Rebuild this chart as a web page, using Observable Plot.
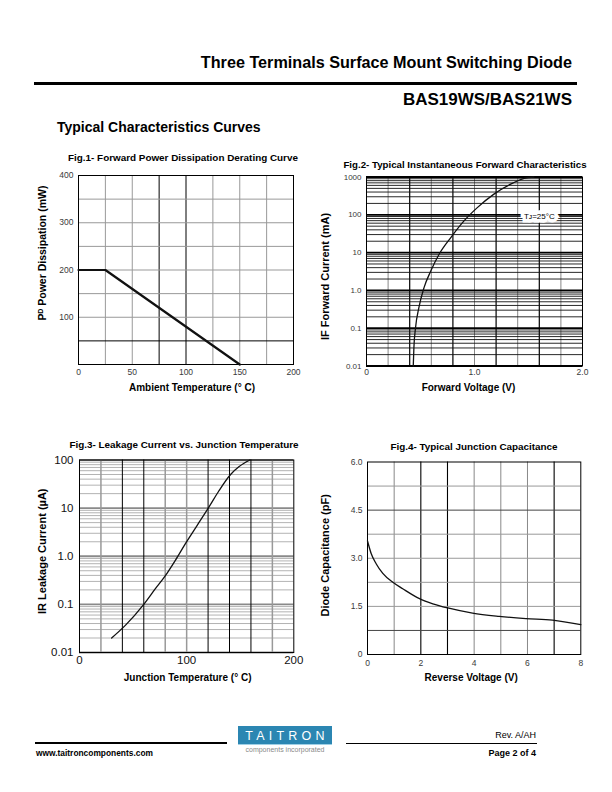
<!DOCTYPE html>
<html><head><meta charset="utf-8">
<script src="https://cdn.jsdelivr.net/npm/d3@7"></script>
<script src="https://cdn.jsdelivr.net/npm/@observablehq/plot@0.6"></script>
<style>
body{margin:0;background:#fff;}
#page{position:relative;width:612px;height:792px;overflow:hidden;font-family:"Liberation Sans",Arial,sans-serif;color:#000;}
.t{position:absolute;white-space:nowrap;line-height:1;}
.b{font-weight:bold;}
svg{overflow:visible;}
</style></head><body><div id="page"></div>
<script>
// ---------- data ----------
// Fig.1 derating curve
const fig1Temp = [0, 25, 150];
const fig1Power = [200, 200, 0];
const fig1XTicks = [0, 50, 100, 150, 200];
const fig1XLabels = ["0", "50", "100", "150", "200"];
const fig1YTicks = [100, 200, 300, 400];
const fig1YLabels = ["100", "200", "300", "400"];
const fig1GridXLight = [25, 50, 125, 150, 175];
const fig1GridXDark = [75, 100];
const fig1GridYLight = [100, 150, 200, 250, 300, 350];
const fig1GridYDark = [50];

// Fig.2 forward characteristics
const fig2Volt = [0.433, 0.439, 0.454, 0.485, 0.532, 0.594, 0.671, 0.779, 0.903, 1.026, 1.18, 1.335, 1.46, 1.55];
const fig2Curr = [0.01, 0.031, 0.103, 0.35, 1.17, 3.2, 8.9, 24.6, 69, 155, 353, 646, 920, 1000];
const fig2XTicks = [0, 1, 2];
const fig2XLabels = ["0", "1.0", "2.0"];
const fig2YTicks = [0.01, 0.1, 1, 10, 100, 1000];
const fig2YLabels = ["0.01", "0.1", "1.0", "10", "100", "1000"];
const fig2GridXLight = [0.2, 0.6, 1.0, 1.4, 1.8];
const fig2GridXDark = [0.4, 0.8, 1.2, 1.6];
const fig2Decades = [0.01, 0.1, 1, 10, 100];
const fig2Minor = [2, 3, 4, 5, 6, 7, 8, 9];
const fig2Note = "Tᴊ=25°C";

// Fig.3 leakage current
const fig3Temp = [30, 43, 60, 71, 80, 89.6, 99, 110, 121, 130, 141, 149, 159];
const fig3Leak = [0.020, 0.037, 0.1, 0.214, 0.39, 0.83, 1.85, 4.45, 10.7, 22.7, 50, 73, 100];
const fig3XTicks = [0, 100, 200];
const fig3XLabels = ["0", "100", "200"];
const fig3YTicks = [0.01, 0.1, 1, 10, 100];
const fig3YLabels = ["0.01", "0.1", "1.0", "10", "100"];
const fig3GridXLight = [20, 80, 100, 180];
const fig3GridXDark = [40, 60, 120, 140, 160];
const fig3Decades = [0.01, 0.1, 1, 10];
const fig3Minor = [2, 3, 4, 5, 6, 7, 8, 9];

// Fig.4 junction capacitance
const fig4Volt = [0, 0.137, 0.324, 0.574, 0.95, 1.32, 1.95, 2.45, 3.01, 3.94, 4.94, 5.94, 6.94, 8];
const fig4Cap = [3.54, 3.15, 2.83, 2.53, 2.25, 2.05, 1.74, 1.58, 1.45, 1.29, 1.19, 1.12, 1.07, 0.93];
const fig4XTicks = [0, 2, 4, 6, 8];
const fig4XLabels = ["0", "2", "4", "6", "8"];
const fig4YTicks = [0, 1.5, 3, 4.5, 6];
const fig4YLabels = ["0", "1.5", "3.0", "4.5", "6.0"];
const fig4GridXLight = [1, 4, 5, 6];
const fig4GridXDark = [2, 3, 7];
const fig4GridYLight = [1.5, 2.25, 3, 3.75, 5.25];
const fig4GridYDark = [0.75, 4.5];

// ---------- helpers ----------
const FONT = '"Liberation Sans", Arial, sans-serif';
const page = document.getElementById("page");
function txt(s, {left, right, cx, cy, size, bold = false, color = "#000", spacing}) {
  const d = document.createElement("div");
  d.className = "t" + (bold ? " b" : "");
  d.textContent = s;
  d.style.fontSize = size + "px";
  d.style.color = color;
  if (spacing) d.style.letterSpacing = spacing + "px";
  d.style.top = cy + "px";
  let tx = "0";
  if (left != null) d.style.left = left + "px";
  else if (right != null) d.style.right = (612 - right) + "px";
  else { d.style.left = cx + "px"; tx = "-50%"; }
  d.style.transform = `translate(${tx},-50%)`;
  page.append(d);
  return d;
}
function box(left, top, w, h, bg) {
  const d = document.createElement("div");
  Object.assign(d.style, {position: "absolute", left: left + "px", top: top + "px", width: w + "px", height: h + "px", background: bg});
  page.append(d);
  return d;
}
function place(svg, left, top) {
  const w = document.createElement("div");
  Object.assign(w.style, {position: "absolute", left: left + "px", top: top + "px"});
  w.append(svg);
  page.append(w);
}
const fmt = (ticks, labels) => { const m = new Map(ticks.map((t, i) => [t, labels[i]])); return d => m.get(d); };
const logGrid = (decades, minor) => decades.flatMap(d => minor.map(m => m * d));
const zipData = (xs, ys) => xs.map((x, i) => ({x, y: ys[i]}));
const tickStyle = {tickSize: 0, fontSize: 8.5, fill: "#3a3a3a", label: null};
const yLabel = (s, dx, dy, size) => Plot.text([s], {text: d => d, frameAnchor: "left", textAnchor: "middle", lineAnchor: "middle", dx, dy, rotate: -90, fontSize: size, fontWeight: "bold", fill: "#000"});
const xLabel = (s, dx, dy) => Plot.text([s], {text: d => d, frameAnchor: "bottom", textAnchor: "middle", lineAnchor: "middle", dx, dy, fontSize: 10, fontWeight: "bold", fill: "#000"});

// ---------- header ----------
txt("Three Terminals Surface Mount Switching Diode", {right: 572, cy: 62, size: 16.2, bold: true});
box(34, 82, 543, 3, "#000");
txt("BAS19WS/BAS21WS", {right: 572, cy: 99, size: 17, bold: true});
txt("Typical Characteristics Curves", {left: 57, cy: 127, size: 14, bold: true});

// ---------- Fig.1 ----------
txt("Fig.1- Forward Power Dissipation Derating Curve", {cx: 183, cy: 158, size: 9.9, bold: true});
place(Plot.plot({
  width: 270, height: 232, marginLeft: 48, marginRight: 7, marginTop: 7, marginBottom: 36,
  style: {fontFamily: FONT, background: "transparent"},
  x: {domain: [0, 200]}, y: {domain: [0, 400]},
  marks: [
    Plot.ruleX(fig1GridXLight, {stroke: "#999", strokeWidth: 1}),
    Plot.ruleX(fig1GridXDark, {stroke: "#000", strokeWidth: 1}),
    Plot.ruleY(fig1GridYLight, {stroke: "#999", strokeWidth: 1}),
    Plot.ruleY(fig1GridYDark, {stroke: "#000", strokeWidth: 1}),
    Plot.frame({stroke: "#000", strokeWidth: 1}),
    Plot.line(zipData(fig1Temp, fig1Power), {x: "x", y: "y", stroke: "#111", strokeWidth: 2.2}),
    Plot.axisX(fig1XTicks, {...tickStyle, tickPadding: 4, tickFormat: fmt(fig1XTicks, fig1XLabels)}),
    Plot.axisY(fig1YTicks, {...tickStyle, tickPadding: 5, tickFormat: fmt(fig1YTicks, fig1YLabels)}),
    yLabel("Pᴰ Power Dissipation (mW)", -36, -17, 10.5),
    xLabel("Ambient Temperature (° C)", 6, 23)
  ]
}), 30, 168);

// ---------- Fig.2 ----------
txt("Fig.2- Typical Instantaneous Forward Characteristics", {cx: 465, cy: 165, size: 9.7, bold: true});
place(Plot.plot({
  width: 290, height: 232, marginLeft: 56, marginRight: 18, marginTop: 8.5, marginBottom: 34.5,
  style: {fontFamily: FONT, background: "transparent"},
  x: {domain: [0, 2]}, y: {type: "log", domain: [0.01, 1000]},
  marks: [
    Plot.ruleX(fig2GridXLight, {stroke: "#888", strokeWidth: 1}),
    Plot.ruleX(fig2GridXDark, {stroke: "#000", strokeWidth: 1.2}),
    Plot.ruleY(logGrid(fig2Decades, fig2Minor), {stroke: "#111", strokeWidth: 0.9}),
    Plot.ruleY(fig2YTicks, {stroke: "#000", strokeWidth: 1.8}),
    Plot.frame({stroke: "#000", strokeWidth: 1}),
    Plot.line(zipData(fig2Volt, fig2Curr), {x: "x", y: "y", curve: "monotone-x", stroke: "#111", strokeWidth: 1.3}),
    Plot.text([{x: 1.6, y: 88, t: fig2Note}], {x: "x", y: "y", text: "t", fontSize: 8, fill: "#000", stroke: "#fff", strokeWidth: 7, strokeLinejoin: "miter"}),
    Plot.axisX(fig2XTicks, {...tickStyle, tickPadding: 3, tickFormat: fmt(fig2XTicks, fig2XLabels)}),
    Plot.axisY(fig2YTicks, {...tickStyle, fontSize: 8, tickPadding: 5, tickFormat: fmt(fig2YTicks, fig2YLabels)}),
    yLabel("IF Forward Current (mA)", -41, 5, 11),
    xLabel("Forward Voltage (V)", -6, 22)
  ]
}), 310, 168);

// ---------- Fig.3 ----------
txt("Fig.3- Leakage Current vs. Junction Temperature", {cx: 184, cy: 445, size: 9.9, bold: true});
place(Plot.plot({
  width: 270, height: 236, marginLeft: 49, marginRight: 6.7, marginTop: 7.5, marginBottom: 36,
  style: {fontFamily: FONT, background: "transparent"},
  x: {domain: [0, 200]}, y: {type: "log", domain: [0.01, 100]},
  marks: [
    Plot.ruleY(logGrid(fig3Decades, fig3Minor), {stroke: "#aaa", strokeWidth: 0.9}),
    Plot.ruleY(fig3YTicks, {stroke: "#8a8a8a", strokeWidth: 1.8}),
    Plot.ruleX(fig3GridXLight, {stroke: "#999", strokeWidth: 1.5}),
    Plot.ruleX(fig3GridXDark, {stroke: "#000", strokeWidth: 1}),
    Plot.frame({stroke: "#000", strokeWidth: 1}),
    Plot.line(zipData(fig3Temp, fig3Leak), {x: "x", y: "y", curve: "monotone-x", stroke: "#111", strokeWidth: 1.3}),
    Plot.axisX(fig3XTicks, {...tickStyle, fontSize: 11.5, fill: "#111", tickPadding: 3, tickFormat: fmt(fig3XTicks, fig3XLabels)}),
    Plot.axisY(fig3YTicks, {...tickStyle, fontSize: 11.5, fill: "#111", tickPadding: 6, tickFormat: fmt(fig3YTicks, fig3YLabels)}),
    yLabel("IR Leakage Current (µA)", -37, -5, 11),
    xLabel("Junction Temperature (° C)", 1, 25)
  ]
}), 30, 452);

// ---------- Fig.4 ----------
txt("Fig.4- Typical Junction Capacitance", {cx: 474, cy: 447, size: 9.9, bold: true});
place(Plot.plot({
  width: 290, height: 236, marginLeft: 57, marginRight: 19.7, marginTop: 9.5, marginBottom: 34,
  style: {fontFamily: FONT, background: "transparent"},
  x: {domain: [0, 8]}, y: {domain: [0, 6]},
  marks: [
    Plot.ruleX(fig4GridXLight, {stroke: "#888", strokeWidth: 1}),
    Plot.ruleX(fig4GridXDark, {stroke: "#000", strokeWidth: 1.1}),
    Plot.ruleY(fig4GridYLight, {stroke: "#999", strokeWidth: 1}),
    Plot.ruleY(fig4GridYDark, {stroke: "#444", strokeWidth: 1}),
    Plot.frame({stroke: "#000", strokeWidth: 1}),
    Plot.line(zipData(fig4Volt, fig4Cap), {x: "x", y: "y", curve: "monotone-x", stroke: "#111", strokeWidth: 1.3}),
    Plot.axisX(fig4XTicks, {...tickStyle, tickPadding: 5, tickFormat: fmt(fig4XTicks, fig4XLabels)}),
    Plot.axisY(fig4YTicks, {...tickStyle, tickPadding: 5, tickFormat: fmt(fig4YTicks, fig4YLabels)}),
    yLabel("Diode Capacitance (pF)", -42, -3, 11),
    xLabel("Reverse Voltage (V)", -3, 23)
  ]
}), 310, 452);

// ---------- footer ----------
box(35, 742, 192, 1.5, "#000");
box(346, 742.5, 191, 1.5, "#000");
box(238, 726, 94, 18, "#2b86b2");
box(238, 744, 94, 1, "#9fd0e6");
txt("TAITRON", {cx: 287, cy: 735.5, size: 12.5, color: "#fff", spacing: 4.2});
txt("components incorporated", {cx: 285, cy: 748.5, size: 7, color: "#8a8a8a"});
txt("Rev. A/AH", {right: 536, cy: 735, size: 9});
txt("www.taitroncomponents.com", {left: 36, cy: 753, size: 8.4, bold: true});
txt("Page 2 of 4", {right: 536, cy: 753, size: 9, bold: true});
</script>
</body></html>
